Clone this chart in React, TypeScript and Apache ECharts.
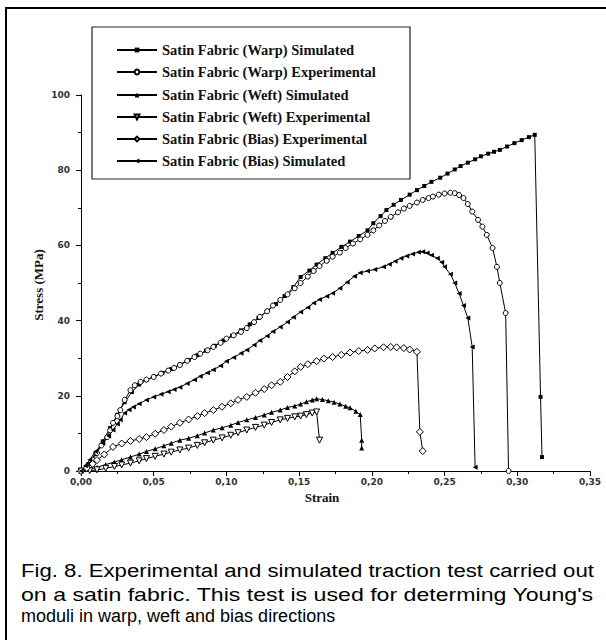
import React, { useEffect, useRef } from 'react';
import * as echarts from 'echarts';

const seriesNames = [
  'Satin Fabric (Warp) Simulated',
  'Satin Fabric (Warp) Experimental',
  'Satin Fabric (Weft) Simulated',
  'Satin Fabric (Weft) Experimental',
  'Satin Fabric (Bias) Experimental',
  'Satin Fabric (Bias) Simulated',
];

const warpSimulated: number[][] = [
  [0.000, 0.0], [0.005, 1.8], [0.010, 4.6], [0.015, 7.9], [0.020, 11.4], [0.025, 15.0], [0.030, 18.3],
  [0.035, 21.0], [0.040, 23.0], [0.045, 24.2], [0.050, 25.1], [0.056, 26.1], [0.062, 27.1], [0.068, 28.3],
  [0.074, 29.5], [0.080, 30.8], [0.086, 32.0], [0.092, 33.3], [0.098, 34.7], [0.104, 36.0], [0.110, 37.4],
  [0.116, 39.0], [0.122, 40.7], [0.128, 42.5], [0.134, 44.4], [0.140, 46.5], [0.146, 48.9], [0.151, 51.6],
  [0.157, 53.3], [0.162, 54.9], [0.168, 56.6], [0.173, 58.0], [0.179, 59.6], [0.185, 61.0], [0.191, 62.5],
  [0.197, 64.0], [0.201, 65.9], [0.206, 67.8], [0.210, 69.4], [0.215, 70.8], [0.220, 72.1], [0.226, 73.5],
  [0.231, 74.7], [0.236, 75.8], [0.241, 76.9], [0.247, 78.0], [0.252, 79.1], [0.257, 80.2], [0.261, 81.1],
  [0.266, 82.0], [0.271, 82.9], [0.275, 83.7], [0.280, 84.4], [0.284, 84.9], [0.288, 85.4], [0.293, 86.3],
  [0.298, 87.2], [0.303, 88.0], [0.308, 88.8], [0.312, 89.4], [0.316, 19.7], [0.317, 3.7],
];

const warpExperimental: number[][] = [
  [0.000, 0.0], [0.004, 1.2], [0.008, 3.0], [0.011, 4.8], [0.014, 6.8], [0.018, 9.0], [0.020, 10.8],
  [0.022, 12.8], [0.025, 14.6], [0.027, 16.2], [0.030, 18.9], [0.034, 21.5], [0.037, 22.8], [0.041, 23.7],
  [0.045, 24.3], [0.050, 25.0], [0.055, 25.9], [0.060, 26.7], [0.064, 27.4], [0.068, 28.2], [0.073, 29.3],
  [0.078, 30.3], [0.082, 31.2], [0.087, 32.1], [0.091, 33.0], [0.096, 34.1], [0.100, 35.2], [0.105, 36.1],
  [0.110, 37.0], [0.114, 38.0], [0.119, 39.6], [0.123, 41.0], [0.128, 42.5], [0.132, 44.0], [0.137, 45.5],
  [0.142, 47.0], [0.147, 48.6], [0.151, 50.0], [0.156, 51.7], [0.160, 53.2], [0.164, 54.5], [0.169, 55.9],
  [0.173, 57.0], [0.178, 58.1], [0.182, 59.3], [0.187, 60.5], [0.192, 61.6], [0.197, 62.8], [0.201, 64.0],
  [0.205, 65.3], [0.209, 66.5], [0.213, 67.6], [0.218, 68.8], [0.222, 69.8], [0.226, 70.5], [0.231, 71.4],
  [0.235, 72.1], [0.239, 72.6], [0.242, 73.0], [0.246, 73.5], [0.250, 73.8], [0.254, 74.0], [0.257, 73.9],
  [0.260, 73.4], [0.263, 72.6], [0.266, 71.0], [0.269, 69.0], [0.273, 66.8], [0.276, 65.0], [0.279, 62.8],
  [0.283, 59.3], [0.286, 54.3], [0.288, 50.0], [0.292, 42.0], [0.294, 0.0],
];

const weftSimulated: number[][] = [
  [0.000, 0.0], [0.006, 0.4], [0.011, 1.0], [0.017, 1.7], [0.023, 2.4], [0.028, 3.0], [0.034, 3.7],
  [0.040, 4.5], [0.045, 5.2], [0.051, 5.9], [0.057, 6.7], [0.062, 7.4], [0.068, 8.2], [0.074, 8.7],
  [0.080, 9.4], [0.085, 10.1], [0.091, 10.9], [0.097, 11.5], [0.103, 12.2], [0.108, 12.9], [0.114, 13.6],
  [0.120, 14.2], [0.126, 14.9], [0.131, 15.6], [0.137, 16.2], [0.142, 16.9], [0.147, 17.3], [0.151, 17.8],
  [0.155, 18.4], [0.159, 18.9], [0.162, 19.2], [0.166, 19.0], [0.170, 18.7], [0.174, 18.3], [0.178, 17.8],
  [0.182, 17.2], [0.185, 16.8], [0.189, 15.9], [0.192, 15.0], [0.193, 8.2], [0.193, 6.1],
];

const weftExperimental: number[][] = [
  [0.000, 0.0], [0.006, 0.1], [0.011, 0.3], [0.017, 0.7], [0.023, 1.2], [0.028, 1.6], [0.034, 2.1],
  [0.040, 2.7], [0.045, 3.3], [0.051, 3.9], [0.057, 4.5], [0.062, 5.0], [0.068, 5.6], [0.074, 6.1],
  [0.080, 6.8], [0.085, 7.5], [0.091, 8.2], [0.097, 8.8], [0.103, 9.5], [0.108, 10.2], [0.114, 10.9],
  [0.120, 11.6], [0.126, 12.2], [0.131, 12.9], [0.137, 13.6], [0.142, 14.0], [0.147, 14.4], [0.151, 14.6],
  [0.155, 15.0], [0.159, 15.4], [0.162, 15.7], [0.164, 8.2],
];

const biasExperimental: number[][] = [
  [0.000, 0.0], [0.004, 0.8], [0.008, 1.9], [0.011, 2.9], [0.016, 4.4], [0.022, 6.4], [0.028, 7.3],
  [0.034, 8.0], [0.040, 8.5], [0.045, 9.0], [0.051, 9.9], [0.057, 10.9], [0.062, 11.8], [0.068, 12.8],
  [0.074, 13.7], [0.080, 14.6], [0.085, 15.4], [0.091, 16.2], [0.097, 17.1], [0.103, 18.0], [0.108, 18.9],
  [0.114, 19.7], [0.120, 20.8], [0.126, 21.8], [0.131, 22.8], [0.137, 23.7], [0.142, 25.0], [0.147, 26.5],
  [0.151, 27.7], [0.156, 28.4], [0.162, 29.2], [0.167, 29.9], [0.173, 30.3], [0.179, 30.9], [0.185, 31.5],
  [0.191, 31.9], [0.197, 32.2], [0.202, 32.6], [0.208, 32.9], [0.213, 33.0], [0.217, 32.9], [0.222, 32.7],
  [0.226, 32.3], [0.231, 31.7], [0.233, 10.4], [0.235, 5.3],
];

const biasSimulated: number[][] = [
  [0.000, 0.0], [0.003, 1.4], [0.006, 3.0], [0.010, 5.2], [0.015, 7.4], [0.019, 9.3], [0.022, 10.9],
  [0.025, 12.5], [0.027, 13.6], [0.030, 15.4], [0.033, 16.3], [0.036, 17.0], [0.040, 17.9], [0.045, 18.9],
  [0.050, 19.7], [0.055, 20.4], [0.060, 21.1], [0.064, 21.7], [0.068, 22.3], [0.073, 23.3], [0.078, 24.3],
  [0.082, 25.2], [0.087, 26.1], [0.091, 26.9], [0.096, 28.0], [0.100, 29.2], [0.105, 30.2], [0.110, 31.3],
  [0.114, 32.2], [0.119, 33.5], [0.123, 34.7], [0.128, 35.9], [0.132, 37.1], [0.137, 38.3], [0.142, 39.6],
  [0.146, 40.9], [0.151, 42.3], [0.156, 43.5], [0.160, 44.7], [0.164, 45.6], [0.169, 46.5], [0.173, 47.3],
  [0.178, 48.6], [0.183, 50.2], [0.188, 51.8], [0.192, 52.7], [0.197, 53.2], [0.202, 53.6], [0.208, 54.3],
  [0.212, 55.0], [0.216, 55.8], [0.220, 56.6], [0.224, 57.2], [0.228, 57.7], [0.232, 58.2], [0.235, 58.3],
  [0.238, 58.0], [0.241, 57.4], [0.245, 56.6], [0.248, 55.5], [0.250, 54.3], [0.254, 52.3], [0.257, 50.0],
  [0.260, 47.2], [0.263, 44.0], [0.266, 40.7], [0.269, 33.0], [0.271, 1.0],
];

const captionLines = [
  'Fig. 8. Experimental and simulated traction test carried out',
  "on a satin fabric. This test is used for determing Young's",
  'moduli in warp, weft and bias directions',
];

const xTitle = 'Strain';
const yTitle = 'Stress (MPa)';

const SERIF = 'Liberation Serif';
const CAP_FONT = 'Liberation Sans';

export default function App() {
  const ref = useRef<HTMLDivElement>(null);

  useEffect(() => {
    document.body.style.margin = '0';
    const chart = echarts.init(ref.current!, null, { renderer: 'svg' });

    const ctx = document.createElement('canvas').getContext('2d')!;
    ctx.font = '18px "Liberation Sans"';
    const capLeft = 21;
    const capRight = 594;
    const capY = [571, 594, 616];

    const captionGraphics = captionLines.map((t, i) => {
      const w = ctx.measureText(t).width;
      const sx = i < 2 ? (capRight - capLeft) / w : 1;
      return {
        type: 'text',
        x: capLeft,
        y: capY[i],
        scaleX: sx,
        style: {
          text: t,
          fontSize: 18,
          fontFamily: CAP_FONT,
          fill: '#000',
          textAlign: 'left',
          textVerticalAlign: 'middle',
        },
      };
    });

    const mk = (
      name: string,
      data: number[][],
      symbol: string,
      size: number,
      filled: boolean
    ) => ({
      type: 'line',
      name,
      data,
      symbol,
      symbolSize: size,
      showSymbol: true,
      lineStyle: { color: '#000', width: 1 },
      itemStyle: filled
        ? { color: '#000', borderColor: '#000', borderWidth: 0 }
        : { color: '#fff', borderColor: '#000', borderWidth: 1 },
      emphasis: { disabled: true },
      z: 3,
    });

    const series = [
      mk(seriesNames[0], warpSimulated, 'rect', 4, true),
      mk(seriesNames[1], warpExperimental, 'circle', 5, false),
      mk(seriesNames[2], weftSimulated, 'triangle', 5, true),
      mk(seriesNames[3], weftExperimental, 'path://M0,0L10,0L5,9Z', 6, false),
      mk(seriesNames[4], biasExperimental, 'diamond', 7, false),
      mk(seriesNames[5], biasSimulated, 'path://M9,0L9,10L0,5Z', 5, true),
    ];

    const rowCenters = [50, 72, 95, 117, 139, 161];
    const legends = seriesNames.map((n, i) => ({
      data: [n],
      left: 116,
      top: rowCenters[i] - 8,
      padding: 0,
      orient: 'vertical',
      itemWidth: 40,
      itemHeight: 6,
      selectedMode: false,
      textStyle: {
        fontFamily: SERIF,
        fontWeight: 'bold',
        fontSize: 14.5,
        color: '#111',
        lineHeight: 16,
      },
    }));

    const option = {
      animation: false,
      backgroundColor: '#fff',
      legend: legends,
      grid: { left: 81, right: 16, top: 95, bottom: 169, containLabel: false },
      xAxis: {
        type: 'value',
        min: 0,
        max: 0.35,
        interval: 0.05,
        axisLine: { show: true, onZero: false, lineStyle: { color: '#000', width: 1 } },
        axisTick: { show: true, inside: false, length: 5, lineStyle: { color: '#000' } },
        minorTick: { show: true, splitNumber: 2, length: 3, lineStyle: { color: '#000' } },
        splitLine: { show: false },
        axisLabel: {
          margin: 6,
          fontSize: 9,
          fontWeight: 'bold',
          fontFamily: 'DejaVu Sans',
          color: '#333',
          formatter: (v: number) => v.toFixed(2).replace('.', ','),
        },
      },
      yAxis: {
        type: 'value',
        min: 0,
        max: 100,
        interval: 20,
        axisLine: { show: true, onZero: false, lineStyle: { color: '#000', width: 1 } },
        axisTick: { show: true, inside: false, length: 5, lineStyle: { color: '#000' } },
        minorTick: { show: true, splitNumber: 2, length: 3, lineStyle: { color: '#000' } },
        splitLine: { show: false },
        axisLabel: {
          margin: 11,
          fontSize: 9,
          fontWeight: 'bold',
          fontFamily: 'DejaVu Sans',
          color: '#333',
        },
      },
      graphic: [
        {
          type: 'line',
          shape: { x1: 5, y1: 8, x2: 606, y2: 8 },
          style: { stroke: '#000', lineWidth: 2 },
        },
        {
          type: 'line',
          shape: { x1: 6, y1: 8, x2: 6, y2: 640 },
          style: { stroke: '#000', lineWidth: 2 },
        },
        {
          type: 'rect',
          shape: { x: 92, y: 27, width: 318, height: 152 },
          style: { fill: 'none', stroke: '#222', lineWidth: 1.2 },
          z: 1,
        },
        {
          type: 'text',
          x: 322,
          y: 497,
          style: {
            text: xTitle,
            fontSize: 13,
            fontWeight: 'bold',
            fontFamily: SERIF,
            fill: '#111',
            textAlign: 'center',
            textVerticalAlign: 'middle',
          },
        },
        {
          type: 'text',
          x: 38,
          y: 285,
          rotation: Math.PI / 2,
          style: {
            text: yTitle,
            fontSize: 13,
            fontWeight: 'bold',
            fontFamily: SERIF,
            fill: '#111',
            textAlign: 'center',
            textVerticalAlign: 'middle',
          },
        },
        ...captionGraphics,
      ],
      series,
    };

    chart.setOption(option as any);
    return () => chart.dispose();
  }, []);

  return <div ref={ref} style={{ width: 606, height: 640 }} />;
}
